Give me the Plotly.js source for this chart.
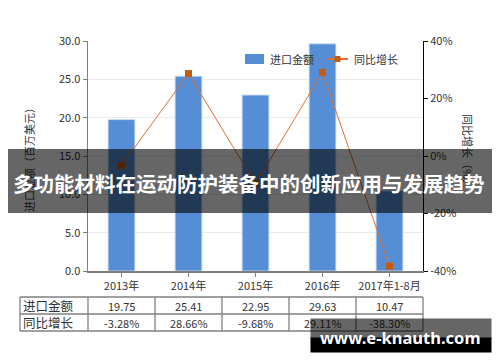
<!DOCTYPE html>
<html>
<head>
<meta charset="utf-8">
<script src="https://cdn.plot.ly/plotly-3.0.1.min.js"></script>
<style>html,body{margin:0;padding:0;background:#fff;}#chart{width:500px;height:362px;}</style>
</head>
<body>
<div id="chart"></div>
<script>
// ---- data ----
const categories = ['2013年', '2014年', '2015年', '2016年', '2017年1-8月'];
const importValues = [19.75, 25.41, 22.95, 29.63, 10.47];   // 进口金额（百万美元）
const growthRates = [-3.28, 28.66, -9.68, 29.11, -38.30];   // 同比增长（%）
const seriesNames = ['进口金额', '同比增长'];
const leftTicks = [0, 5, 10, 15, 20, 25, 30];
const rightTicks = [-40, -20, 0, 20, 40];
const rightTickText = ['-40%', '-20%', '0%', '20%', '40%'];
const chartTitle = '多功能材料在运动防护装备中的创新应用与发展趋势';
const yTitleLeft = '进口金额（百万美元）';
const yTitleRight = '同比增长（%）';
const watermark = 'www.e-knauth.com';

// ---- layout helpers (pixel -> paper) ----
const W = 500, H = 362, L = 88, R = 77, T = 41, B = 91;
const PW = W - L - R, PH = H - T - B;
const X = px => (px - L) / PW;
const Y = py => (H - B - py) / PH;
const FONT = "'Noto Sans CJK SC', 'Noto Sans', sans-serif";
const TXT = '#333333';
const BAR = '#558ED5';
const LINE = '#E07030';
const MARK = '#C55A11';

const traces = [
  {
    type: 'bar', x: categories, y: importValues, name: seriesNames[0],
    width: 0.4,
    marker: {color: BAR, line: {color: 'rgba(200,220,245,0.9)', width: 1}},
    yaxis: 'y', showlegend: false, hoverinfo: 'skip'
  },
  {
    type: 'scatter', mode: 'lines+markers', x: categories, y: growthRates, name: seriesNames[1],
    line: {color: LINE, width: 1},
    marker: {symbol: 'square', size: 7, color: MARK},
    yaxis: 'y2', showlegend: false, hoverinfo: 'skip'
  }
];

const shapes = [];
const annotations = [];

// legend (drawn manually for exact placement)
shapes.push({type: 'rect', xref: 'paper', yref: 'paper', x0: X(245), x1: X(264), y0: Y(54), y1: Y(64),
  fillcolor: BAR, line: {width: 0}});
shapes.push({type: 'line', xref: 'paper', yref: 'paper', x0: X(327), x1: X(348), y0: Y(59), y1: Y(59),
  line: {color: LINE, width: 2}});
shapes.push({type: 'rect', xref: 'paper', yref: 'paper', x0: X(334.5), x1: X(340.5), y0: Y(56), y1: Y(62),
  fillcolor: MARK, line: {width: 0}});
annotations.push({xref: 'paper', yref: 'paper', x: X(268), y: Y(59), xanchor: 'left', yanchor: 'middle',
  text: seriesNames[0], showarrow: false, font: {family: FONT, size: 11, color: TXT}});
annotations.push({xref: 'paper', yref: 'paper', x: X(352), y: Y(59), xanchor: 'left', yanchor: 'middle',
  text: seriesNames[1], showarrow: false, font: {family: FONT, size: 11, color: TXT}});

// axis titles
annotations.push({xref: 'paper', yref: 'paper', x: X(29), y: Y(157), xanchor: 'center', yanchor: 'middle',
  textangle: -90, showarrow: false, text: yTitleLeft, font: {family: FONT, size: 11, color: TXT}});
annotations.push({xref: 'paper', yref: 'paper', x: X(468), y: Y(152), xanchor: 'center', yanchor: 'middle',
  textangle: 90, showarrow: false, text: yTitleRight, font: {family: FONT, size: 11, color: TXT}});

// data table below the chart
const rowsPx = [297, 314, 331];
const tableLeft = 20;
const colEdges = [X(tableLeft)];
for (let k = 0; k <= categories.length; k++) colEdges.push(k / categories.length);
const BORDER = '#808080';
rowsPx.forEach(py => shapes.push({type: 'line', xref: 'paper', yref: 'paper',
  x0: colEdges[0], x1: colEdges[colEdges.length - 1], y0: Y(py), y1: Y(py), line: {color: BORDER, width: 1.3}}));
colEdges.forEach(px => shapes.push({type: 'line', xref: 'paper', yref: 'paper',
  x0: px, x1: px, y0: Y(rowsPx[0]), y1: Y(rowsPx[2]), line: {color: BORDER, width: 1.3}}));
const rowText = [importValues.map(v => v.toFixed(2)), growthRates.map(v => v.toFixed(2) + '%')];
seriesNames.forEach((name, r) => {
  const yc = Y((rowsPx[r] + rowsPx[r + 1]) / 2);
  annotations.push({xref: 'paper', yref: 'paper', x: X(21), y: yc, xanchor: 'left', yanchor: 'middle',
    text: name, showarrow: false, font: {family: FONT, size: 12.5, color: TXT}});
  categories.forEach((c, i) => {
    annotations.push({xref: 'x', yref: 'paper', x: c, y: yc, xanchor: 'center', yanchor: 'middle',
      text: rowText[r][i], showarrow: false, font: {family: FONT, size: 11, color: TXT}});
  });
});

// title banner overlay
annotations.push({xref: 'paper', yref: 'paper', x: X(250), y: Y(181), xanchor: 'center', yanchor: 'middle',
  text: ' ', showarrow: false, width: 484, height: 64,
  bgcolor: 'rgba(0,0,0,0.6)', borderpad: 0, borderwidth: 0, font: {size: 8}});
annotations.push({xref: 'paper', yref: 'paper', x: X(249), y: Y(183), xanchor: 'center', yanchor: 'middle',
  text: '<b>' + chartTitle + '</b>', showarrow: false,
  font: {family: FONT, size: 20.5, color: '#ffffff'}});

// watermark badge
annotations.push({xref: 'paper', yref: 'paper', x: X(401), y: Y(328.5), xanchor: 'center', yanchor: 'middle',
  text: ' ', showarrow: false, width: 180, height: 19, bgcolor: 'rgba(0,0,0,0.6)', borderpad: 0,
  font: {size: 8}});
annotations.push({xref: 'paper', yref: 'paper', x: X(401), y: Y(345), xanchor: 'center', yanchor: 'middle',
  text: ' ', showarrow: false, width: 180, height: 14, bgcolor: '#000000', borderpad: 0,
  font: {size: 8}});
annotations.push({xref: 'paper', yref: 'paper', x: X(400), y: Y(337), xanchor: 'center', yanchor: 'middle',
  text: '<b>' + watermark + '</b>', showarrow: false,
  font: {family: "'Noto Sans', 'Open Sans', sans-serif", size: 16.5, color: '#ffffff'}});

const layout = {
  width: W, height: H,
  margin: {l: L, r: R, t: T, b: B, pad: 0},
  paper_bgcolor: '#ffffff', plot_bgcolor: '#ffffff',
  font: {family: FONT, size: 11, color: TXT},
  showlegend: false,
  bargap: 0.6,
  xaxis: {
    type: 'category', range: [-0.5, categories.length - 0.5],
    showline: true, linecolor: '#7f7f7f', linewidth: 1.5,
    ticks: 'outside', ticklen: 4, tickcolor: '#7f7f7f', tickwidth: 1,
    showgrid: false, zeroline: false,
    tickfont: {family: FONT, size: 11, color: TXT}
  },
  yaxis: {
    range: [0, 30], tickvals: leftTicks, tickformat: '.1f',
    showline: true, linecolor: '#7f7f7f', linewidth: 1.5,
    ticks: 'outside', ticklen: 4, tickcolor: '#7f7f7f', tickwidth: 1,
    showgrid: true, gridcolor: '#ebebeb', gridwidth: 1, zeroline: false,
    tickfont: {family: FONT, size: 11, color: TXT}
  },
  yaxis2: {
    overlaying: 'y', side: 'right', range: [-40, 40],
    tickmode: 'array', tickvals: rightTicks, ticktext: rightTickText,
    showline: true, linecolor: '#000000', linewidth: 1,
    ticks: 'outside', ticklen: 4, tickcolor: '#000000', tickwidth: 1,
    showgrid: false, zeroline: false,
    tickfont: {family: FONT, size: 11, color: TXT}
  },
  shapes: shapes,
  annotations: annotations
};

Plotly.newPlot('chart', traces, layout, {staticPlot: true, displayModeBar: false});
</script>
</body>
</html>
